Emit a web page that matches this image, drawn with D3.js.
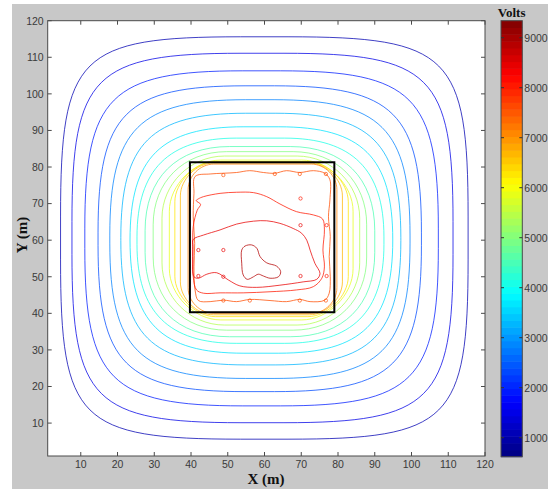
<!DOCTYPE html>
<html>
<head>
<meta charset="utf-8">
<script src="https://cdn.jsdelivr.net/npm/d3@7"></script>
<style>
  html, body { margin: 0; padding: 0; background: #fff; }
  svg { display: block; }
  .tick-label { font-family: "Liberation Sans", Arial, sans-serif; font-size: 10.5px; fill: #3a3a3a; }
  .axis-title { font-family: "Liberation Serif", "Times New Roman", serif; font-weight: bold; fill: #111; }
</style>
</head>
<body>
<div id="chart"></div>
<script>
// contour levels (Volts), outermost first
const levels = [1050, 1500, 1950, 2350, 2800, 3250, 3650, 4100, 4550, 5000, 5400, 5850, 6300, 6700, 7150]
// extents of the outer contours (m)
const outerLeft   = [4.5, 7.6, 11.1, 14.7, 17.9, 20.9, 23.4, 25.3, 27.5, 29.7, 32.1, 34.1, 35.6, 37.1, 39.2]
const outerRight  = [115.4, 111.3, 107.3, 102.7, 99.6, 97.1, 94.9, 92.5, 90.0, 87.8, 85.9, 84.1, 82.8, 81.2, 79.7]
const outerTop    = [115.6, 111.1, 106.3, 102.2, 98.4, 94.7, 91.0, 87.9, 85.6, 84.2, 83.0, 81.9, 81.5, 81.1, 80.8]
const outerBottom = [5.6, 10.1, 14.7, 18.6, 22.2, 25.9, 29.1, 31.8, 33.6, 35.4, 36.8, 38.2, 39.1, 39.6, 40.0]
// how far each corner bend reaches along the sides, and how far it cuts in on the diagonal (m)
const outerReach  = [49, 46, 43, 40, 37, 34, 31, 27, 23, 20, 17, 14, 11, 9, 7]
const outerCut    = [8, 8, 8, 7.8, 7.6, 7.3, 7, 6.6, 6.1, 5.6, 5, 4.3, 3.5, 2.8, 2.1]

// irregular contours inside the grid
const innerLevels = [7600, 8050, 8450, 8900]
const contourA = [[41.1,77.4],[45.2,78.1],[48.8,78.3],[52.4,78.5],[56.0,79.0],[59.7,78.5],[62.8,78.3],[66.0,79.0],[69.6,78.5],[73.3,79.0],[76.4,78.3],[77.8,76.5],[77.8,71.0],[77.4,66.4],[77.9,61.0],[77.6,55.5],[77.9,50.0],[77.6,45.5],[76.4,43.6],[72.4,43.2],[69.6,43.8],[66.0,43.2],[61.5,43.5],[56.0,43.8],[52.4,43.2],[48.8,43.6],[45.2,43.2],[42.0,43.5],[41.1,46.4],[40.8,52.7],[41.0,59.1],[40.6,66.4],[40.8,72.8]]
const contourB = [[43.4,71.9],[47.9,72.8],[52.4,73.1],[57.0,73.0],[60.6,71.9],[64.2,69.9],[68.7,67.8],[73.3,66.9],[75.8,65.8],[76.3,62.8],[75.9,57.3],[76.3,52.7],[75.6,49.6],[73.3,47.3],[68.7,46.4],[61.5,45.9],[54.2,45.6],[47.9,45.6],[43.4,45.5],[41.5,46.4],[40.6,50.0],[40.5,57.3],[40.6,63.7],[41.7,68.2],[42.6,69.8],[41.4,70.8],[42.0,71.3]]
const contourC = [[40.6,60.2],[43.4,61.4],[47.9,62.8],[52.4,64.4],[57.0,65.2],[60.6,65.3],[64.2,64.6],[67.8,63.2],[70.1,61.9],[71.5,60.0],[72.4,57.3],[73.7,53.7],[75.1,50.9],[74.2,49.3],[70.5,48.6],[64.2,47.7],[57.9,47.1],[53.3,47.5],[50.2,49.1],[47.0,51.1],[44.3,50.7],[42.0,49.6],[40.8,50.0],[40.5,54.6],[40.5,58.2]]
const contourD = [[53.8,57.3],[54.7,58.4],[56.5,58.7],[57.9,57.8],[58.8,55.5],[60.6,53.8],[63.3,52.9],[64.4,51.4],[63.8,50.0],[61.5,49.6],[59.7,50.2],[58.3,50.7],[57.0,50.0],[55.3,49.3],[54.2,50.5],[53.8,53.7]]
// small closed contours round the grid nodes
const nodeX = [42.0, 48.8, 48.8, 62.8, 69.6, 76.7, 69.8, 69.8, 76.9, 42.0, 48.8, 69.8, 76.9, 48.8, 56.0, 69.6, 76.7]
const nodeY = [57.3, 57.3, 77.8, 78.1, 78.1, 78.1, 71.4, 64.1, 64.1, 50.2, 50.0, 50.2, 50.2, 43.5, 43.5, 43.5, 43.5]
const nodeLevel = [8450, 8450, 7600, 7600, 7600, 7600, 8050, 8450, 8050, 8450, 8450, 8450, 8050, 7600, 7600, 7600, 7600]

// grid outline (m)
const gridX = [39.7, 79.0]
const gridY = [40.3, 81.3]

const xTicks = d3.range(10, 121, 10)
const yTicks = d3.range(10, 121, 10)
const cbTicks = d3.range(1000, 9001, 1000)
const cbDomain = [620, 9340]

const width = 553, height = 489
const plot = { left: 47.7, right: 485, top: 20.7, bottom: 456 }
const cb = { left: 501, right: 522.3 }

// MATLAB jet colormap
function jet(t) {
  const c = v => Math.max(0, Math.min(1, v))
  const r = c(1.5 - Math.abs(4 * t - 3))
  const g = c(1.5 - Math.abs(4 * t - 2))
  const b = c(1.5 - Math.abs(4 * t - 1))
  return d3.rgb(r * 255, g * 255, b * 255).formatHex()
}
const color = d3.scaleSequential(jet).domain(cbDomain)

const svg = d3.select('#chart').append('svg')
  .attr('width', width)
  .attr('height', height)

svg.append('rect')
  .attr('x', 12).attr('y', 4)
  .attr('width', 536).attr('height', height - 4)
  .attr('fill', '#c8c8c8')

const x = d3.scaleLinear().domain([1, 120]).range([plot.left, plot.right])
const y = d3.scaleLinear().domain([1, 120]).range([plot.bottom, plot.top])

svg.append('rect')
  .attr('x', plot.left).attr('y', plot.top)
  .attr('width', plot.right - plot.left).attr('height', plot.bottom - plot.top)
  .attr('fill', '#fff')

const g = svg.append('g')

// outer contours: rounded boxes built from the read extents
function roundedContour(l, r, b, t, reach, cut) {
  const xl = x(l), xr = x(r), yt = y(t), yb = y(b)
  const kx = x(2) - x(1), ky = y(1) - y(2)
  const rx = Math.min(reach * kx, (xr - xl) / 2)
  const ry = Math.min(reach * ky, (yb - yt) / 2)
  // handle length so that the curve passes the diagonal at the read cut-in
  const h = Math.max(0.02, Math.min(0.55, (8 * cut / reach - 1) / 3))
  const p = d3.path()
  p.moveTo(xl + rx, yt)
  p.lineTo(xr - rx, yt)
  p.bezierCurveTo(xr - h * rx, yt, xr, yt + h * ry, xr, yt + ry)
  p.lineTo(xr, yb - ry)
  p.bezierCurveTo(xr, yb - h * ry, xr - h * rx, yb, xr - rx, yb)
  p.lineTo(xl + rx, yb)
  p.bezierCurveTo(xl + h * rx, yb, xl, yb - h * ry, xl, yb - ry)
  p.lineTo(xl, yt + ry)
  p.bezierCurveTo(xl, yt + h * ry, xl + h * rx, yt, xl + rx, yt)
  p.closePath()
  return p.toString()
}

g.selectAll('path.outer')
  .data(levels)
  .enter()
  .append('path')
  .attr('class', 'outer')
  .attr('d', (v, i) => roundedContour(outerLeft[i], outerRight[i], outerBottom[i], outerTop[i], outerReach[i], outerCut[i]))
  .attr('fill', 'none')
  .attr('stroke', v => color(v))
  .attr('stroke-width', 1)
  .attr('stroke-opacity', 0.75)

const line = d3.line()
  .x(d => x(d[0]))
  .y(d => y(d[1]))
  .curve(d3.curveCatmullRomClosed.alpha(0.5))

const inner = [contourA, contourB, contourC, contourD]
g.selectAll('path.inner')
  .data(inner)
  .enter()
  .append('path')
  .attr('class', 'inner')
  .attr('d', line)
  .attr('fill', 'none')
  .attr('stroke', (d, i) => color(innerLevels[i]))
  .attr('stroke-width', 1)
  .attr('stroke-opacity', 0.75)

g.selectAll('circle.node')
  .data(nodeX)
  .enter()
  .append('circle')
  .attr('class', 'node')
  .attr('cx', d => x(d))
  .attr('cy', (d, i) => y(nodeY[i]))
  .attr('r', (x(1.45) - x(1)))
  .attr('fill', 'none')
  .attr('stroke', (d, i) => color(nodeLevel[i]))
  .attr('stroke-width', 0.9)
  .attr('stroke-opacity', 0.75)

// grid outline
svg.append('rect')
  .attr('x', x(gridX[0])).attr('y', y(gridY[1]))
  .attr('width', x(gridX[1]) - x(gridX[0]))
  .attr('height', y(gridY[0]) - y(gridY[1]))
  .attr('fill', 'none')
  .attr('stroke', '#000')
  .attr('stroke-width', 2)

// axes box and ticks
const axisColor = '#4a4a4a'
svg.append('rect')
  .attr('x', plot.left).attr('y', plot.top)
  .attr('width', plot.right - plot.left).attr('height', plot.bottom - plot.top)
  .attr('fill', 'none').attr('stroke', axisColor).attr('stroke-width', 1)

const tickLen = 4
svg.append('g').selectAll('line').data(xTicks).enter().append('line')
  .attr('x1', d => x(d)).attr('x2', d => x(d))
  .attr('y1', plot.bottom).attr('y2', plot.bottom - tickLen)
  .attr('stroke', axisColor)
svg.append('g').selectAll('line').data(xTicks).enter().append('line')
  .attr('x1', d => x(d)).attr('x2', d => x(d))
  .attr('y1', plot.top).attr('y2', plot.top + tickLen)
  .attr('stroke', axisColor)
svg.append('g').selectAll('line').data(yTicks).enter().append('line')
  .attr('x1', plot.left).attr('x2', plot.left + tickLen)
  .attr('y1', d => y(d)).attr('y2', d => y(d))
  .attr('stroke', axisColor)
svg.append('g').selectAll('line').data(yTicks).enter().append('line')
  .attr('x1', plot.right).attr('x2', plot.right - tickLen)
  .attr('y1', d => y(d)).attr('y2', d => y(d))
  .attr('stroke', axisColor)

svg.append('g').selectAll('text').data(xTicks).enter().append('text')
  .attr('class', 'tick-label')
  .attr('x', d => x(d)).attr('y', plot.bottom + 12)
  .attr('text-anchor', 'middle')
  .text(d => d)
svg.append('g').selectAll('text').data(yTicks).enter().append('text')
  .attr('class', 'tick-label')
  .attr('x', plot.left - 4).attr('y', d => y(d) + 3.8)
  .attr('text-anchor', 'end')
  .text(d => d)

svg.append('text')
  .attr('class', 'axis-title')
  .attr('x', 266).attr('y', 484)
  .attr('text-anchor', 'middle')
  .attr('font-size', 15)
  .text('X (m)')
svg.append('text')
  .attr('class', 'axis-title')
  .attr('transform', 'translate(27,235) rotate(-90)')
  .attr('text-anchor', 'middle')
  .attr('font-size', 15)
  .text('Y (m)')

// colorbar
const cy = d3.scaleLinear().domain(cbDomain).range([plot.bottom + 0.7, plot.top])
const nBins = 64
const bins = d3.range(nBins).map(i => cbDomain[0] + (cbDomain[1] - cbDomain[0]) * i / nBins)
const binH = (cbDomain[1] - cbDomain[0]) / nBins
svg.append('g').selectAll('rect').data(bins).enter().append('rect')
  .attr('x', cb.left)
  .attr('y', d => cy(d + binH))
  .attr('width', cb.right - cb.left)
  .attr('height', d => cy(d) - cy(d + binH) + 0.5)
  .attr('fill', d => color(d + binH / 2))
svg.append('rect')
  .attr('x', cb.left).attr('y', cy(cbDomain[1]))
  .attr('width', cb.right - cb.left).attr('height', cy(cbDomain[0]) - cy(cbDomain[1]))
  .attr('fill', 'none').attr('stroke', axisColor)
svg.append('g').selectAll('line').data(cbTicks).enter().append('line')
  .attr('x1', cb.left).attr('x2', cb.left + 3)
  .attr('y1', d => cy(d)).attr('y2', d => cy(d))
  .attr('stroke', '#333')
svg.append('g').selectAll('line').data(cbTicks).enter().append('line')
  .attr('x1', cb.right).attr('x2', cb.right - 3)
  .attr('y1', d => cy(d)).attr('y2', d => cy(d))
  .attr('stroke', '#333')
svg.append('g').selectAll('text').data(cbTicks).enter().append('text')
  .attr('class', 'tick-label')
  .attr('x', cb.right + 2).attr('y', d => cy(d) + 3.8)
  .text(d => d)
svg.append('text')
  .attr('class', 'axis-title')
  .attr('x', (cb.left + cb.right) / 2).attr('y', 16.5)
  .attr('text-anchor', 'middle')
  .attr('font-size', 13)
  .text('Volts')
</script>
</body>
</html>
